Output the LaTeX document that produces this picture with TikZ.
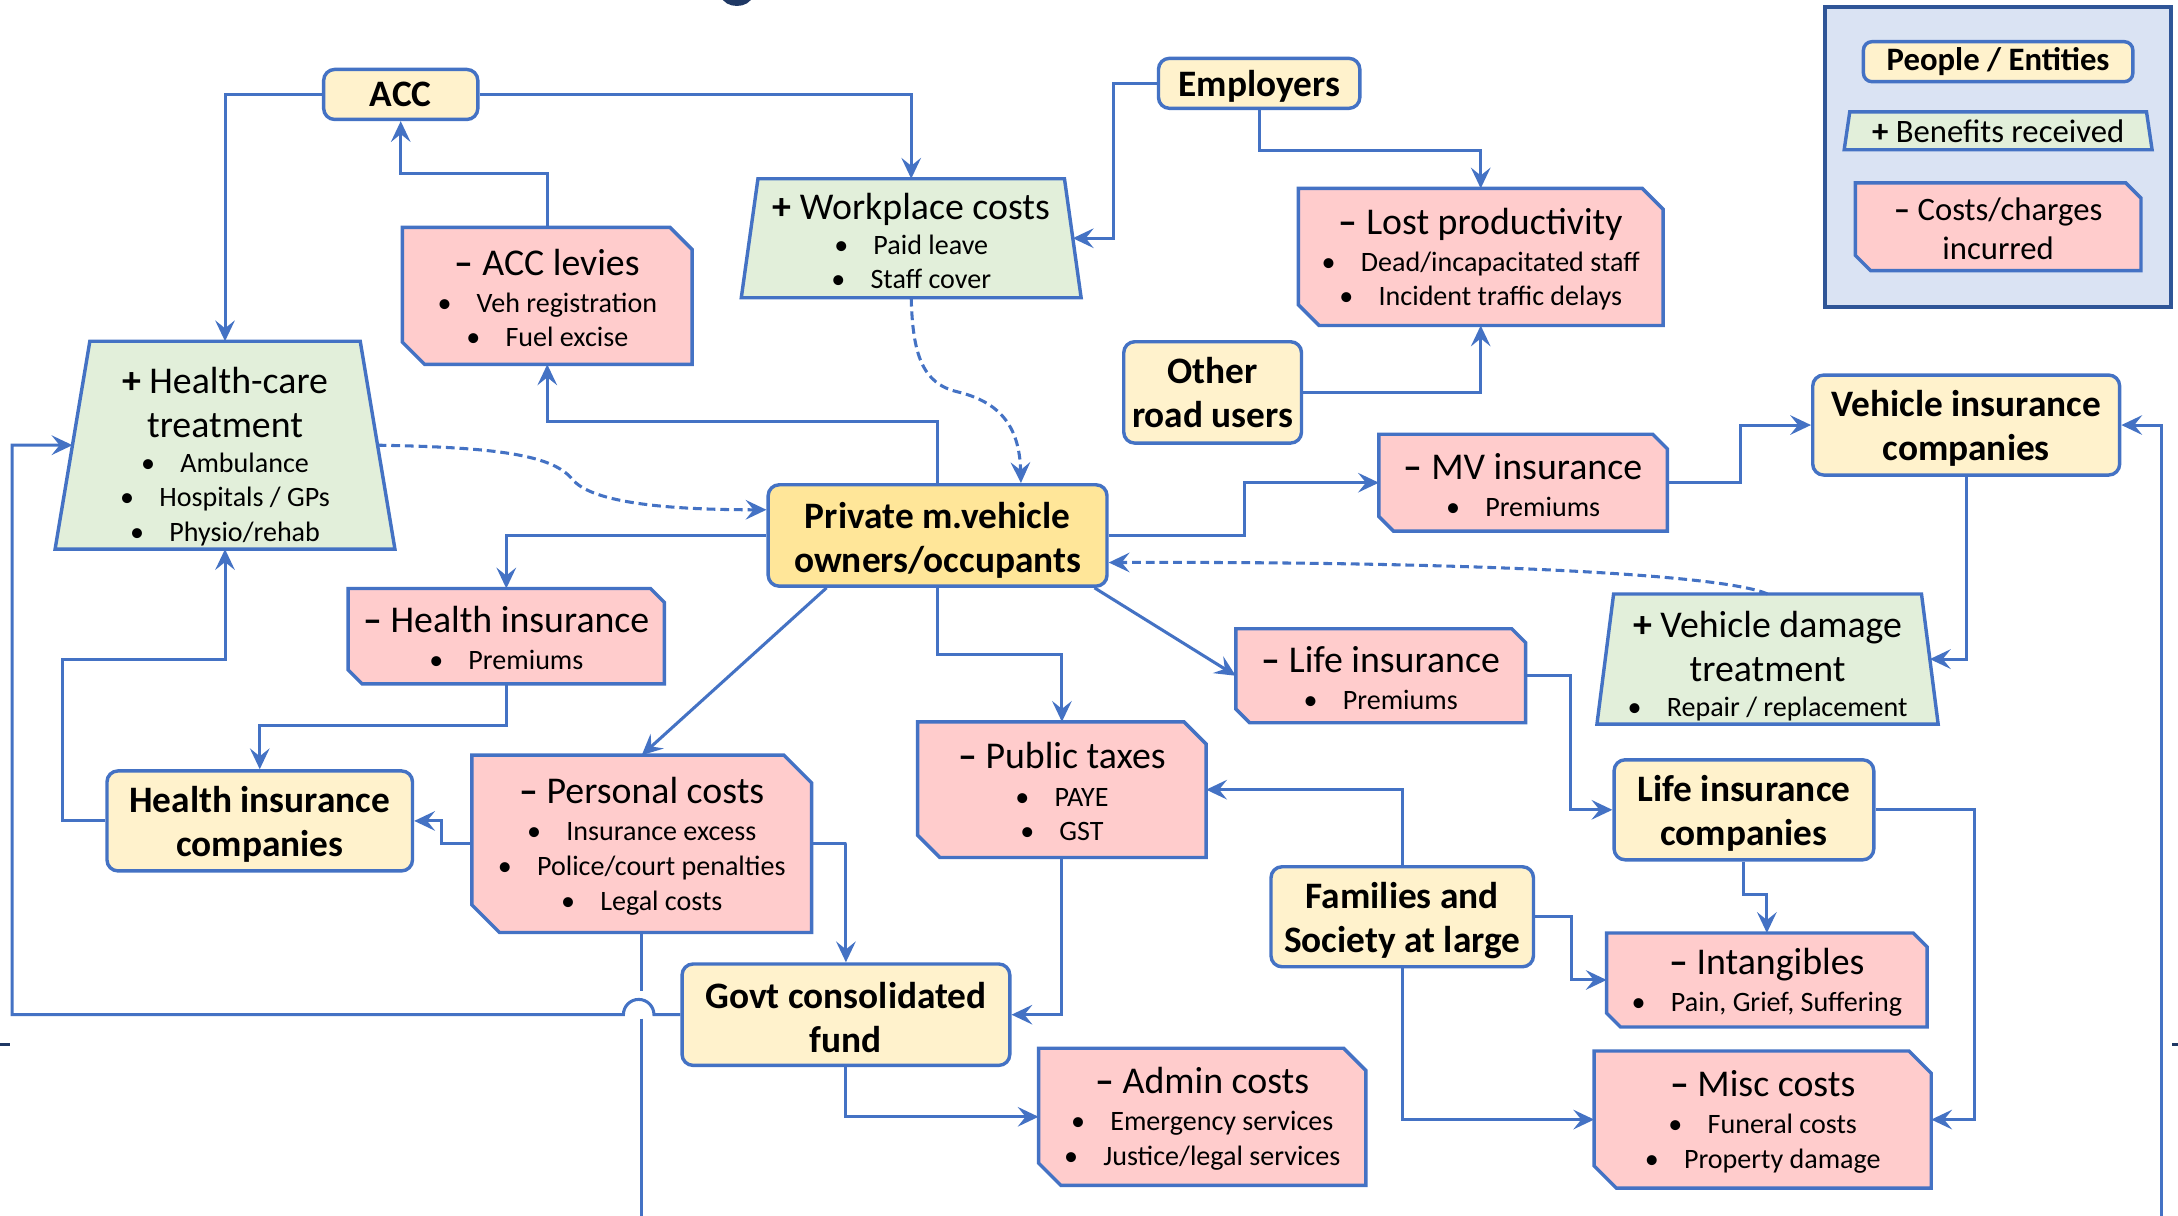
\documentclass[tikz,border=0pt]{standalone}
\usepackage{fontspec}
\setmainfont{Carlito}
\usetikzlibrary{arrows.meta,backgrounds,calc}
\definecolor{lineblue}{HTML}{4472C4}
\definecolor{entfill}{HTML}{FFF2CC}
\definecolor{privfill}{HTML}{FFE699}
\definecolor{pinkfill}{HTML}{FFCCCC}
\definecolor{greenfill}{HTML}{E2EFDA}
\definecolor{legfill}{HTML}{DAE3F3}
\definecolor{legline}{HTML}{2F5597}
\definecolor{navy}{HTML}{1F3864}
\newcommand\dgEnt{\fontsize{15.3}{18.2}\selectfont\bfseries}
\newcommand\dgTtl{\fontsize{15.5}{18.2}\selectfont}
\newcommand\dgBul{\fontsize{11.5}{14.2}\selectfont}
\newcommand\dgLeg{\fontsize{13.4}{15.4}\selectfont}
\newcommand\dgMinus{\textbf{–} }
\newcommand\dgPlus{\textbf{+} }
\newcommand\dgBullet{•\hspace{0.9em}}
\newcommand\dgStrut[1]{\rule{0pt}{#1}}
\newcommand\dgSnip[2]{\path[pinkshape] (#1.north west) -- ([xshift=-#2]#1.north east) -- ([yshift=-#2]#1.north east) -- (#1.south east) -- ([xshift=#2]#1.south west) -- ([yshift=#2]#1.south west) -- cycle;}
\newcommand\dgTrap[2]{\path[greenshape] ([xshift=#2]#1.north west) -- ([xshift=-#2]#1.north east) -- (#1.south east) -- (#1.south west) -- cycle;}
\tikzset{
  conn/.style={draw=lineblue, line width=1.25pt, -{Stealth[length=8.5pt,width=8pt,inset=3.2pt]}},
  plainline/.style={draw=lineblue, line width=1.25pt},
  dashconn/.style={conn, dash pattern=on 3.6pt off 2pt},
  ent/.style={rectangle, rounded corners=4.5pt, draw=lineblue, line width=1.4pt, fill=entfill, font=\dgEnt, align=center, inner sep=0pt},
  txt/.style={rectangle, inner sep=0pt, align=center, font=\dgBul},
  pinkshape/.style={fill=pinkfill, draw=lineblue, line width=1.4pt},
  greenshape/.style={fill=greenfill, draw=lineblue, line width=1.4pt},
}
\begin{document}
\begin{tikzpicture}[x=0.02cm, y=-0.02cm]
\useasboundingbox (0,0) rectangle (1568,875);

% ---------- entity nodes ----------
\node[ent, minimum width=2.22cm, minimum height=0.72cm] (acc) at (288.5,68) {ACC};
\node[ent, minimum width=2.9cm, minimum height=0.72cm] (emp) at (906.5,60) {\dgStrut{13pt}Employers};
\node[ent, minimum width=2.56cm, minimum height=1.46cm] (oru) at (873,282.5) {Other\\road users};
\node[ent, minimum width=4.42cm, minimum height=1.44cm] (vic) at (1415.5,306) {\dgStrut{13.5pt}Vehicle insurance\\companies};
\node[ent, fill=privfill, minimum width=4.88cm, minimum height=1.46cm] (priv) at (675,385.5) {\dgStrut{14.6pt}Private m.vehicle\\owners/occupants};
\node[ent, minimum width=4.4cm, minimum height=1.44cm] (hic) at (187,591) {\dgStrut{13.5pt}Health insurance\\companies};
\node[ent, minimum width=3.74cm, minimum height=1.44cm] (lic) at (1255.5,583) {\dgStrut{13.8pt}Life insurance\\companies};
\node[ent, minimum width=3.78cm, minimum height=1.44cm] (fam) at (1009.5,660) {\dgStrut{13.8pt}Families and\\Society at large};
\node[ent, minimum width=4.72cm, minimum height=1.46cm] (govt) at (609,730.5) {\dgStrut{13pt}Govt consolidated\\fund};

% ---------- benefit (green) nodes ----------
\node[txt, minimum width=4.88cm, minimum height=1.7cm] (wp) at (656,171.5)
  {{\dgTtl\dgStrut{13.2pt}\dgPlus Workplace costs}\\ \dgBullet Paid leave\\ \dgBullet Staff cover};
\node[txt, minimum width=4.88cm, minimum height=2.98cm] (hc) at (162,320.5)
  {{\dgTtl\dgStrut{20pt}\dgPlus Health-care}\\[4pt] {\dgTtl treatment}\\ \dgBullet Ambulance\\ \dgBullet Hospitals / GPs\\ \dgBullet Physio/rehab};
\node[txt, minimum width=4.9cm, minimum height=1.86cm] (vd) at (1272.5,474.5)
  {{\dgTtl\dgStrut{16.5pt}\dgPlus Vehicle damage}\\[4pt] {\dgTtl treatment}\\ \dgBullet Repair / replacement};

% ---------- cost (pink) nodes ----------
\node[txt, minimum width=4.16cm, minimum height=1.96cm] (lev) at (394,213)
  {{\dgTtl\dgStrut{12.5pt}\dgMinus ACC levies}\\[1pt] \dgBullet Veh registration\\ \dgBullet Fuel excise};
\node[txt, minimum width=5.24cm, minimum height=1.96cm] (lost) at (1066,185)
  {{\dgTtl\dgStrut{12.5pt}\dgMinus Lost productivity}\\[1pt] \dgBullet Dead/incapacitated staff\\ \dgBullet Incident traffic delays};
\node[txt, minimum width=4.14cm, minimum height=1.38cm] (mv) at (1096.5,347.5)
  {{\dgTtl\dgStrut{12.5pt}\dgMinus MV insurance}\\[1pt] \dgBullet Premiums};
\node[txt, minimum width=4.54cm, minimum height=1.36cm] (hi) at (364.5,458)
  {{\dgTtl\dgStrut{12.5pt}\dgMinus Health insurance}\\[1pt] \dgBullet Premiums};
\node[txt, minimum width=4.16cm, minimum height=1.34cm] (li) at (994,486.5)
  {{\dgTtl\dgStrut{12.5pt}\dgMinus Life insurance}\\[1pt] \dgBullet Premiums};
\node[txt, minimum width=4.14cm, minimum height=1.94cm] (pt) at (764.5,568.5)
  {{\dgTtl\dgStrut{12.5pt}\dgMinus Public taxes}\\[1pt] \dgBullet PAYE\\ \dgBullet GST};
\node[txt, minimum width=4.88cm, minimum height=2.54cm] (pers) at (462,607.5)
  {{\dgTtl\dgStrut{12.8pt}\dgMinus Personal costs}\\[1pt] \dgBullet Insurance excess\\ \dgBullet Police/court penalties\\ \dgBullet Legal costs};
\node[txt, minimum width=4.6cm, minimum height=1.34cm] (int) at (1272,705.5)
  {{\dgTtl\dgStrut{12.5pt}\dgMinus Intangibles}\\[1pt] \dgBullet Pain, Grief, Suffering};
\node[txt, minimum width=4.7cm, minimum height=1.96cm] (adm) at (865.5,804)
  {{\dgTtl\dgStrut{12.5pt}\dgMinus Admin costs}\\[1pt] \dgBullet Emergency services\\ \dgBullet Justice/legal services};
\node[txt, minimum width=4.84cm, minimum height=1.96cm] (misc) at (1269,806)
  {{\dgTtl\dgStrut{12.5pt}\dgMinus Misc costs}\\[1pt] \dgBullet Funeral costs\\ \dgBullet Property damage};

% ---------- legend ----------
\node[ent, font=\dgLeg\bfseries, rounded corners=3.5pt, minimum width=3.88cm, minimum height=0.576cm] (lgE) at (1438.5,44.4) {People / Entities};
\node[txt, font=\dgLeg, minimum width=4.42cm, minimum height=0.53cm] (lgB) at (1438.5,94.2) {\textbf{+} Benefits received};
\node[txt, font=\dgLeg, minimum width=4.1cm, minimum height=1.25cm] (lgC) at (1438.5,163.2) {\dgStrut{11pt}\textbf{–} Costs/charges\\[0.5pt]incurred};

% ---------- shapes behind the texts ----------
\begin{scope}[on background layer]
  \fill[white] (0,0) rectangle (1568,875);
  \node[draw=legline, line width=1.65pt, fill=legfill, minimum width=4.98cm, minimum height=4.32cm, inner sep=0pt] (legend) at (1438.5,113) {};
  \dgTrap{wp}{0.24cm}
  \dgTrap{hc}{0.5cm}
  \dgTrap{vd}{0.24cm}
  \dgTrap{lgB}{0.08cm}
  \dgSnip{lev}{0.32cm}
  \dgSnip{lost}{0.3cm}
  \dgSnip{mv}{0.21cm}
  \dgSnip{hi}{0.2cm}
  \dgSnip{li}{0.2cm}
  \dgSnip{pt}{0.32cm}
  \dgSnip{pers}{0.4cm}
  \dgSnip{int}{0.2cm}
  \dgSnip{adm}{0.32cm}
  \dgSnip{misc}{0.32cm}
  \dgSnip{lgC}{0.22cm}
\end{scope}

% ---------- helper coordinates ----------
\coordinate (wpR) at ($(wp.east)+(-6,0)$);
\coordinate (hcR) at ($(hc.east)+(-12.5,0)$);
\coordinate (hcL) at ($(hc.west)+(12.5,0)$);
\coordinate (vdR) at ($(vd.east)+(-6,0)$);
\coordinate (rb) at (1556,880);
\coordinate (pb) at (462,880);

% ---------- connectors ----------
\draw[conn] (acc.west) -| (hc.north);
\draw[conn] (acc.east) -| (wp.north);
\draw[conn] (lev.north) -- ++(0,-39) -| (acc.south);
\draw[conn] (emp.west) -- ++(-31,0) |- (wpR);
\draw[conn] (emp.south) -- ++(0,29) -| (lost.north);
\draw[conn] (oru.east) -| (lost.south);
\draw[dashconn] (wp.south) .. controls (657,255) and (664,276) .. (689,282) .. controls (718,289) and (734,305) .. ([xshift=1.2cm]priv.north);
\draw[dashconn] (hcR) .. controls (360,322) and (398,328) .. (412,345) .. controls (426,362) and (480,367) .. ([yshift=0.37cm]priv.west);
\draw[dashconn] (vd.north) .. controls (1240,413) and (1050,404) .. ([yshift=-0.39cm]priv.east);
\draw[conn] (priv.north) -- ++(0,-44) -| (lev.south);
\draw[conn] (priv.west) -| (hi.north);
\draw[conn] (priv.east) -- ++(98,0) |- (mv.west);
\draw[conn] (mv.east) -- ++(53,0) |- (vic.west);
\draw[conn] (vic.south) |- (vdR);
\draw[conn] (rb) |- (vic.east);
\draw[conn] (hi.south) -- ++(0,30) -| (hic.north);
\draw[conn] (hic.west) -- ++(-31,0) -- ++(0,-116) -| (hc.south);
\draw[conn] ([xshift=-1.6cm]priv.south) -- (pers.north);
\draw[conn] (priv.south) -- ++(0,48) -| (pt.north);
\draw[conn] ([xshift=2.26cm]priv.south) -- (li.west);
\draw[conn] (pers.west) -- ++(-22,0) |- (hic.east);
\draw[conn] (pers.east) -- ++(25,0) -| (govt.north);
\draw[conn] (pt.south) |- (govt.east);
\draw[conn] (govt.west) -- ++(-19,0) arc[start angle=0, end angle=180, radius=0.22cm] -- ++(-440,0) |- (hcL);
\draw[plainline] (pers.south) -- ++(0,42);
\draw[plainline] ($(pers.south)+(0,62)$) -- (pb);
\draw[conn] (govt.south) |- (adm.west);
\draw[conn] (fam.north) |- (pt.east);
\draw[conn] (fam.east) -- ++(26,0) |- (int.west);
\draw[conn] (fam.south) |- (misc.west);
\draw[conn] (li.east) -- ++(32,0) |- (lic.west);
\draw[conn] (lic.south) -- ++(0,24) -| (int.north);
\draw[conn] (lic.east) -- ++(71,0) |- (misc.east);

% ---------- cut-off fragments at the edges ----------
\draw[navy, line width=2.6pt] (521,-4) .. controls (523,4) and (538,4) .. (540,-4);
\draw[navy, line width=1.2pt] (0,752) -- (7.5,752);
\draw[navy, line width=1.2pt] (1564,752) -- (1568,752);
\end{tikzpicture}
\end{document}
